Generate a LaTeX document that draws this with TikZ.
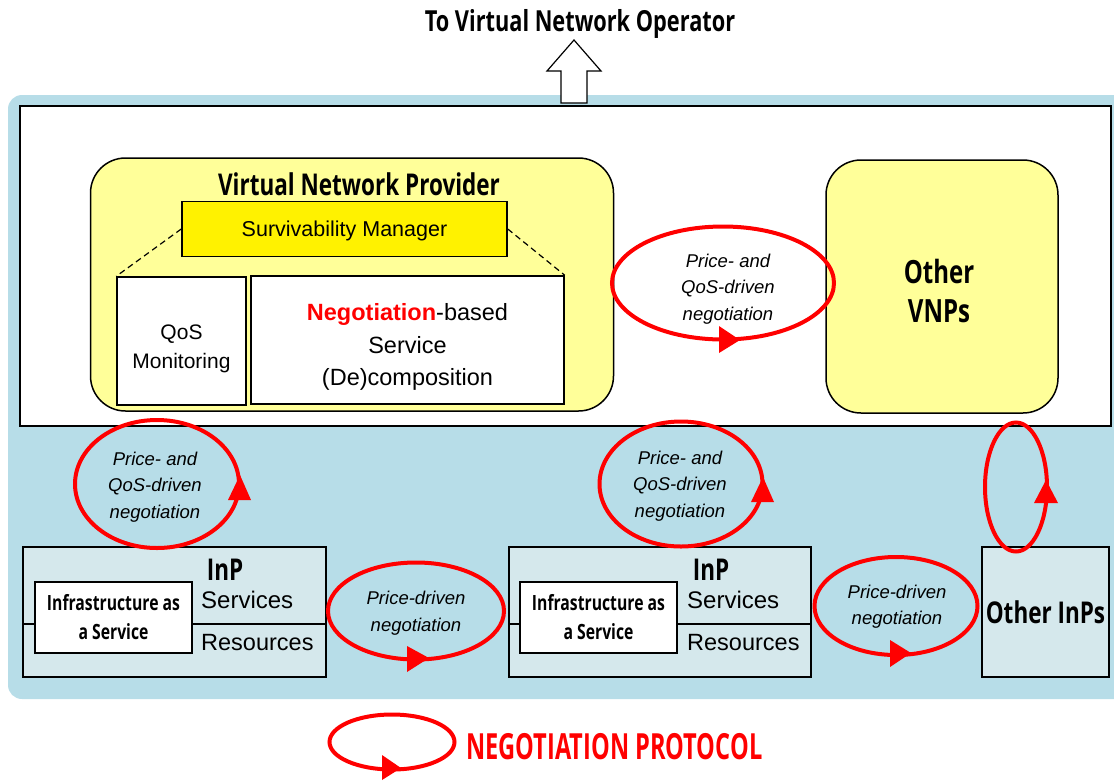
\documentclass[tikz,border=0pt]{standalone}
\usepackage{fontspec}
\setmainfont{Liberation Sans}
\newfontfamily\condb[FakeStretch=0.75]{Open Sans}
\newfontfamily\condn[FakeStretch=0.655]{Open Sans}
\usetikzlibrary{shapes.geometric}
\definecolor{bgblue}{RGB}{183,221,232}
\definecolor{lyellow}{RGB}{255,255,153}
\definecolor{inpfill}{RGB}{213,232,236}
\definecolor{negred}{RGB}{255,0,0}
\tikzset{
  box/.style={draw=black, line width=1.5pt, inner sep=0pt, rectangle},
  neg/.style={ellipse, draw=negred, line width=4pt, inner sep=0pt},
  negtext/.style={inner sep=0pt, align=center, font=\fontsize{18.5}{26.5}\selectfont\itshape},
  tipfill/.style={fill=negred},
  hd/.style={inner sep=0pt, align=center},
  reg/.style={inner sep=0pt},
}
\newcommand{\hdfont}[1]{\condb\bfseries\fontsize{#1}{#1}\selectfont}
\begin{document}
\begin{tikzpicture}[x=1pt,y=-1pt]
\useasboundingbox (0,0) rectangle (1114,780);
\begin{scope}
  \clip (0,0) rectangle (1114,780);
  \fill[bgblue, rounded corners=14pt] (8,95) rectangle (1150,699);
\end{scope}
% inner white panel
\node[box, fill=white, minimum width=1091, minimum height=320, anchor=north west] (panel) at (19,105) {};
% title and up arrow
\node[hd, font=\hdfont{29}] (title) at (580,24) {To Virtual Network Operator};
\draw[fill=white, line width=1.2pt] (561,103) -- (561,71) -- (547,71) -- (574,40) -- (601,71) -- (587,71) -- (587,103) -- cycle;
% VNP
\node[box, rounded corners=35pt, fill=lyellow, minimum width=523, minimum height=253] (vnp) at (352,284.5) {};
\node[hd, font=\hdfont{30}] (vnptitle) at (359,184) {Virtual Network Provider};
\node[box, fill=yellow, minimum width=325, minimum height=55] (sm) at (344.5,229) {};
\node[reg, font=\fontsize{21.5}{24}\selectfont] (smt) at (344.5,231) {Survivability Manager};
\node[box, fill=white, minimum width=129, minimum height=128] (qos) at (181.5,341) {};
\node[reg, align=center, font=\fontsize{21}{29}\selectfont] (qost) at (181.5,349) {QoS\\Monitoring};
\node[box, fill=white, minimum width=313, minimum height=128] (dec) at (407.5,340) {};
\node[reg, align=center, font=\fontsize{23.5}{32.5}\selectfont] (dect) at (407.5,347) {\textcolor{negred}{\bfseries Negotiation}-based\\Service\\(De)composition};
\draw[line width=1.2pt, dash pattern=on 6pt off 4pt] (sm.west) -- (qos.north west);
\draw[line width=1.2pt, dash pattern=on 6pt off 4pt] (sm.east) -- (dec.north east);
% Other VNPs
\node[box, rounded corners=35pt, fill=lyellow, minimum width=232, minimum height=253] (ovnp) at (942,286.5) {};
\node[hd, font=\condb\bfseries\fontsize{32}{39}\selectfont] (ovnpt) at (939,291) {Other\\VNPs};
% InP 1
\node[box, fill=inpfill, minimum width=303, minimum height=130] (inp1) at (174.5,612) {};
\draw[line width=1.5pt] (23,624) -- (326,624);
\node[box, fill=white, minimum width=157, minimum height=71, align=center, font=\condb\bfseries\fontsize{21}{29}\selectfont] (iaas1) at (113.5,617.5) {Infrastructure as\\a Service};
\node[hd, font=\hdfont{30}] (inpt1) at (225,570) {InP};
\node[reg, anchor=west, font=\fontsize{24}{24}\selectfont] (serv1) at (201,600) {Services};
\node[reg, anchor=west, font=\fontsize{23.5}{24}\selectfont] (res1) at (201,643) {Resources};
% InP 2
\node[box, fill=inpfill, minimum width=302, minimum height=130] (inp2) at (660,612) {};
\draw[line width=1.5pt] (509,624) -- (811,624);
\node[box, fill=white, minimum width=157, minimum height=71, align=center, font=\condb\bfseries\fontsize{21}{29}\selectfont] (iaas2) at (598.5,617.5) {Infrastructure as\\a Service};
\node[hd, font=\hdfont{30}] (inpt2) at (711,570) {InP};
\node[reg, anchor=west, font=\fontsize{24}{24}\selectfont] (serv2) at (687,600) {Services};
\node[reg, anchor=west, font=\fontsize{23.5}{24}\selectfont] (res2) at (687,643) {Resources};
% Other InPs
\node[box, fill=inpfill, minimum width=127, minimum height=130, font=\condb\bfseries\fontsize{30}{30}\selectfont] (oinp) at (1045.5,612) {Other InPs};
% negotiation ellipses
\node[neg, minimum width=222, minimum height=113] (e1) at (723,283) {};
\node[negtext] (e1t) at (728,289) {Price- and\\QoS-driven\\negotiation};
\fill[tipfill] (719,326) -- (740,340) -- (719,353) -- cycle;
\node[neg, minimum width=164, minimum height=128] (e2) at (157,484) {};
\node[negtext] (e2t) at (155,487) {Price- and\\QoS-driven\\negotiation};
\fill[tipfill] (228,500) -- (240,475) -- (251,500) -- cycle;
\node[neg, minimum width=163, minimum height=125] (e3) at (681,484) {};
\node[negtext] (e3t) at (680,486) {Price- and\\QoS-driven\\negotiation};
\fill[tipfill] (751,502) -- (763,477) -- (774,502) -- cycle;
\node[neg, minimum width=176, minimum height=97] (e4) at (416,611) {};
\node[negtext, font=\fontsize{18.5}{27}\selectfont\itshape] (e4t) at (416,613) {Price-driven\\negotiation};
\fill[tipfill] (407,646) -- (429,658) -- (407,672) -- cycle;
\node[neg, minimum width=163, minimum height=98] (e5) at (896,606) {};
\node[negtext, font=\fontsize{18.5}{26}\selectfont\itshape] (e5t) at (897,607) {Price-driven\\negotiation};
\fill[tipfill] (890,640) -- (911,653) -- (890,667) -- cycle;
\node[neg, minimum width=62, minimum height=129] (e6) at (1016,487) {};
\fill[tipfill] (1034,503) -- (1046,480) -- (1058,503) -- cycle;
% legend
\node[neg, minimum width=125, minimum height=55] (leg) at (392,742) {};
\fill[tipfill] (382,755) -- (401,768) -- (382,780) -- cycle;
\node[reg, anchor=west, text=negred, font=\condn\bfseries\fontsize{36}{36}\selectfont] (legtext) at (466,747) {NEGOTIATION PROTOCOL};
\end{tikzpicture}
\end{document}
